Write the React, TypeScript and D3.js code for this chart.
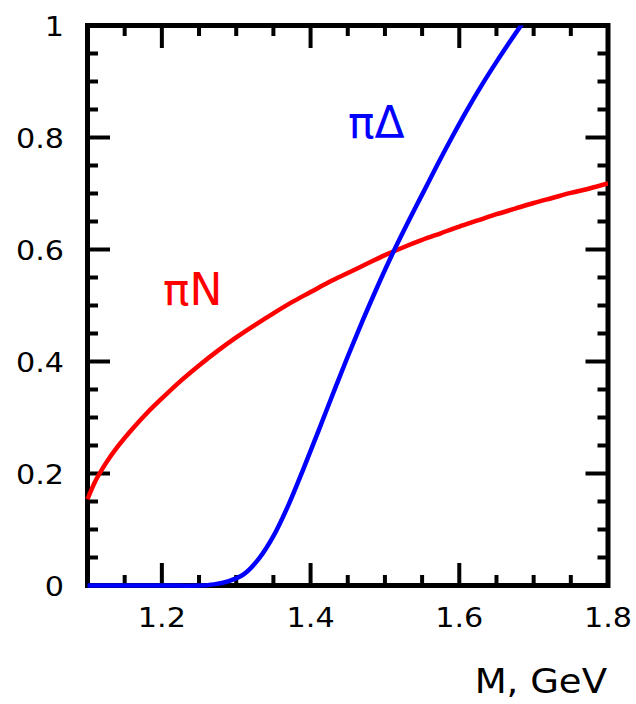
import React from "react";
import * as d3 from "d3";

// πN curve (M in GeV, value)
const piN_M = [1.10, 1.11, 1.125, 1.14, 1.16, 1.18, 1.20, 1.225, 1.25, 1.275, 1.30, 1.325, 1.35, 1.375, 1.40, 1.425, 1.45, 1.475, 1.50, 1.525, 1.55, 1.575, 1.60, 1.625, 1.65, 1.675, 1.70, 1.725, 1.75, 1.775, 1.80];
const piN_V = [0.154, 0.185, 0.219, 0.247, 0.279, 0.308, 0.334, 0.365, 0.393, 0.419, 0.443, 0.465, 0.486, 0.506, 0.524, 0.542, 0.558, 0.574, 0.590, 0.604, 0.617, 0.629, 0.641, 0.652, 0.663, 0.673, 0.683, 0.692, 0.701, 0.709, 0.718];

// πΔ curve
const piD_M = [1.10, 1.15, 1.20, 1.25, 1.27, 1.29, 1.31, 1.33, 1.35, 1.37, 1.39, 1.41, 1.43, 1.45, 1.47, 1.49, 1.51, 1.53, 1.55, 1.57, 1.59, 1.61, 1.63, 1.65, 1.67, 1.684, 1.69];
const piD_V = [0, 0, 0, 0, 0.002, 0.008, 0.020, 0.047, 0.088, 0.143, 0.207, 0.274, 0.342, 0.409, 0.473, 0.534, 0.592, 0.646, 0.698, 0.750, 0.800, 0.848, 0.893, 0.935, 0.975, 1.002, 1.013];

const xTickLabels = ["1.2", "1.4", "1.6", "1.8"];
const yTickLabels = ["0", "0.2", "0.4", "0.6", "0.8", "1"];

const curveLabels = [
  { text: "πN", M: 1.2017, v: 0.501, color: "#ff0000" },
  { text: "πΔ", M: 1.4503, v: 0.799, color: "#0000ff" },
];

const W = 636;
const H = 704;
const FONT = "'DejaVu Sans', sans-serif";

export default function App() {
  const x = d3.scaleLinear().domain([1.1, 1.8]).range([87.5, 608]);
  const y = d3.scaleLinear().domain([0, 1]).range([585.5, 25.5]);

  const line = d3
    .line<[number, number]>()
    .x((d) => x(d[0]))
    .y((d) => y(d[1]))
    .curve(d3.curveCatmullRom.alpha(0.5));

  const redPath = line(piN_M.map((m, i) => [m, piN_V[i]]));
  const bluePath = line(piD_M.map((m, i) => [m, piD_V[i]]));

  // minor ticks every 0.05, majors every 0.2
  const xTicks = d3.range(0, 15).map((i) => +(1.1 + i * 0.05).toFixed(2));
  const yTicks = d3.range(0, 21).map((i) => +(i * 0.05).toFixed(2));
  const isMajor = (t: number) => Math.abs(t * 5 - Math.round(t * 5)) < 1e-6;

  const [x0, x1] = x.range();
  const [y0, y1] = y.range();
  const major = 22.5;
  const minor = 10.5;

  return (
    <svg width={W} height={H} style={{ position: "absolute", left: 0, top: 0, background: "#fff" }}>
      <defs>
        <clipPath id="plot">
          <rect x={x0 - 3} y={y1} width={x1 - x0 + 3} height={y0 - y1 + 3} />
        </clipPath>
      </defs>

      {/* ticks */}
      <g stroke="#000" strokeWidth={4}>
        {xTicks.slice(1, -1).map((t) => {
          const len = isMajor(t) ? major : minor;
          return (
            <g key={"x" + t}>
              <line x1={x(t)} x2={x(t)} y1={y0} y2={y0 - len} />
              <line x1={x(t)} x2={x(t)} y1={y1} y2={y1 + len} />
            </g>
          );
        })}
        {yTicks.slice(1, -1).map((t) => {
          const len = isMajor(t) ? major : minor;
          return (
            <g key={"y" + t}>
              <line x1={x0} x2={x0 + len} y1={y(t)} y2={y(t)} />
              <line x1={x1} x2={x1 - len} y1={y(t)} y2={y(t)} />
            </g>
          );
        })}
      </g>

      {/* frame */}
      <rect x={x0} y={y1} width={x1 - x0} height={y0 - y1} fill="none" stroke="#000" strokeWidth={5} />

      {/* curves, drawn over the frame */}
      <g clipPath="url(#plot)" fill="none" strokeWidth={4.5} strokeLinejoin="round">
        <path d={redPath ?? ""} stroke="#ff0000" />
        <path d={bluePath ?? ""} stroke="#0000ff" />
      </g>

      {/* tick labels */}
      <g fontFamily={FONT} fontSize={27} fill="#000">
        {xTickLabels.map((s) => (
          <text key={s} transform={`translate(${x(+s)},627) scale(1.12,1)`} textAnchor="middle">
            {s}
          </text>
        ))}
        {yTickLabels.map((s) => (
          <text key={s} transform={`translate(64,${y(+s) + 10.5}) scale(1.12,1)`} textAnchor="end">
            {s}
          </text>
        ))}
      </g>

      {/* axis title */}
      <text transform="translate(607,693) scale(1.09,1)" textAnchor="end" fontFamily={FONT} fontSize={34} fill="#000">
        M, GeV
      </text>

      {/* curve labels */}
      {curveLabels.map((l) => (
        <text key={l.text} x={x(l.M)} y={y(l.v)} fontFamily={FONT} fontSize={44} fill={l.color}>
          {l.text}
        </text>
      ))}
    </svg>
  );
}
